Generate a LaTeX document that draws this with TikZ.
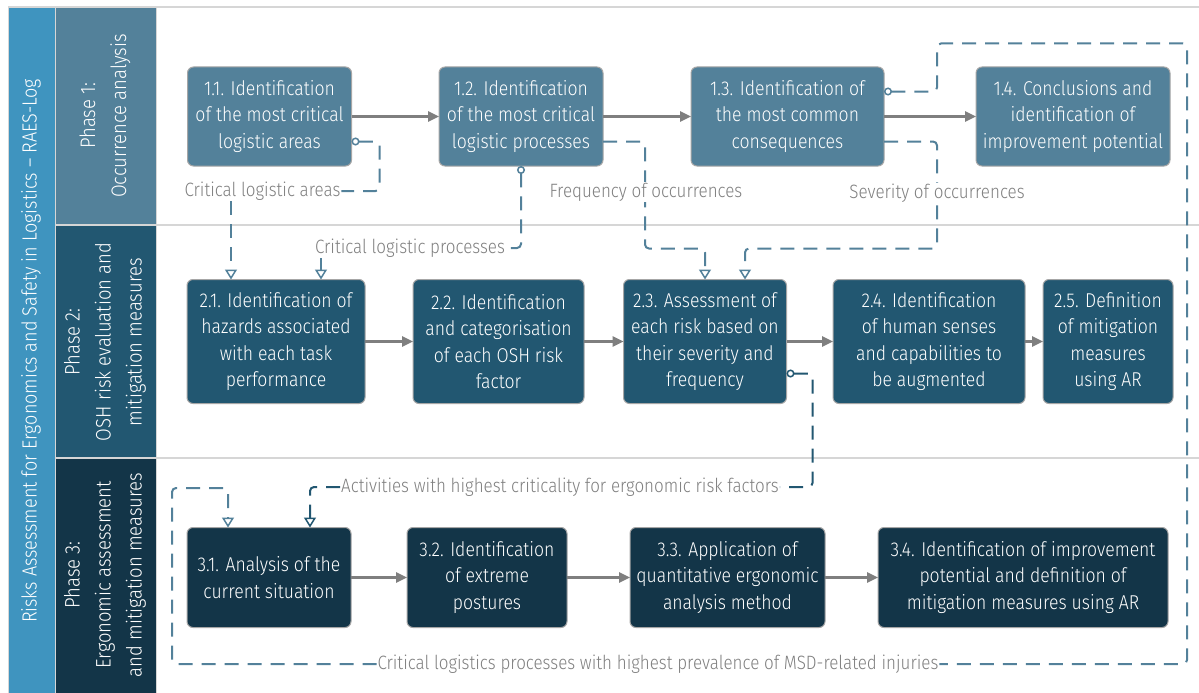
\documentclass[tikz,border=0pt]{standalone}
\usepackage{fontspec}
\setmainfont{Fira Sans Light}[FakeStretch=0.88]
\usetikzlibrary{arrows.meta}

\definecolor{barblue}{HTML}{3F94BF}
\definecolor{phaseA}{HTML}{53819A}
\definecolor{phaseB}{HTML}{225771}
\definecolor{phaseC}{HTML}{133548}
\definecolor{gridgray}{HTML}{D6D6D6}
\definecolor{flowgray}{HTML}{7F7F7F}
\definecolor{labelgray}{HTML}{7F7F7F}

\tikzset{
  boxbase/.style={rounded corners=6pt, draw=gray!70, line width=1pt,
    text=white, align=center, inner sep=0pt, outer sep=0pt,
    font=\fontsize{20}{26.5}\selectfont},
  stageA/.style={boxbase, fill=phaseA},
  stageB/.style={boxbase, fill=phaseB},
  stageC/.style={boxbase, fill=phaseC},
  flow/.style={draw=flowgray, line width=2.5pt,
    -{Triangle[length=11pt,width=10pt]}},
  dlink/.style={line width=2pt, dash pattern=on 14pt off 9pt, rounded corners=4pt},
  dlinkA/.style={dlink, draw=phaseA},
  dlinkB/.style={dlink, draw=phaseB},
  startdot/.style={{Circle[open,length=8pt,width=8pt,fill=white,line width=1.5pt]}-},
  opentip/.style={-{Triangle[open,length=10pt,width=12pt,fill=white,line width=1.5pt]}},
  flowlabel/.style={text=labelgray, fill=white, inner sep=1pt, outer sep=0pt,
    font=\fontsize{19.3}{24}\selectfont},
  phasetext/.style={text=white, rotate=90, align=center,
    font=\fontsize{21}{31}\selectfont}
}

\begin{document}
\begin{tikzpicture}[x=1pt,y=-1pt]
\useasboundingbox (0,0) rectangle (1199,693);
\fill[white] (0,0) rectangle (1199,693);

% side bands
\fill[barblue] (8,7) rectangle (55,693);
\fill[phaseA] (55,7) rectangle (156,225);
\fill[phaseB] (55,225) rectangle (156,458);
\fill[phaseC] (55,458) rectangle (156,693);
\draw[gridgray, line width=1.5pt] (8,7) -- (1199,7);
\draw[gridgray, line width=1.5pt] (55,225) -- (1199,225);
\draw[gridgray, line width=1.5pt] (55,458) -- (1199,458);
\draw[gridgray, line width=1pt] (8,7) -- (8,693);
\draw[gridgray, line width=1pt] (55,7) -- (55,693);
\draw[gridgray, line width=1pt] (156,7) -- (156,693);

\node[phasetext, font=\fontsize{20.5}{26}\selectfont] (title) at (31,351)
  {Risks Assessment for Ergonomics and Safety in Logistics -- RAES-Log};
\node[phasetext] (ph1) at (105,116) {Phase 1:\\Occurrence analysis};
\node[phasetext] (ph2) at (105,342) {Phase 2:\\OSH risk evaluation and\\mitigation measures};
\node[phasetext] (ph3) at (105,575) {Phase 3:\\Ergonomic assessment\\and mitigation measures};

% phase 1
\node[stageA, minimum width=164pt, minimum height=99pt] (n11) at (269.5,116.5)
  {1.1. Identification\\of the most critical\\logistic areas};
\node[stageA, minimum width=164pt, minimum height=99pt] (n12) at (521,116.5)
  {1.2. Identification\\of the most critical\\logistic processes};
\node[stageA, minimum width=193pt, minimum height=99pt] (n13) at (787.5,116.5)
  {1.3. Identification of\\the most common\\consequences};
\node[stageA, minimum width=194pt, minimum height=99pt] (n14) at (1073,116.5)
  {1.4. Conclusions and\\identification of\\improvement potential};

% phase 2
\node[stageB, minimum width=178pt, minimum height=124pt] (n21) at (276,341.5)
  {2.1. Identification of\\hazards associated\\with each task\\performance};
\node[stageB, minimum width=171pt, minimum height=124pt] (n22) at (498.5,341.5)
  {2.2. Identification\\and categorisation\\of each OSH risk\\factor};
\node[stageB, minimum width=163pt, minimum height=124pt] (n23) at (705,341.5)
  {2.3. Assessment of\\each risk based on\\their severity and\\frequency};
\node[stageB, minimum width=192pt, minimum height=124pt] (n24) at (929,341.5)
  {2.4. Identification\\of human senses\\and capabilities to\\be augmented};
\node[stageB, minimum width=130pt, minimum height=124pt] (n25) at (1108,341.5)
  {2.5. Definition\\of mitigation\\measures\\using AR};

% phase 3
\node[stageC, minimum width=164pt, minimum height=100pt] (n31) at (269,577.5)
  {3.1. Analysis of the\\current situation};
\node[stageC, minimum width=160pt, minimum height=100pt] (n32) at (487,577.5)
  {3.2. Identification\\of extreme\\postures};
\node[stageC, minimum width=195pt, minimum height=100pt] (n33) at (727.5,577.5)
  {3.3. Application of\\quantitative ergonomic\\analysis method};
\node[stageC, minimum width=290pt, minimum height=100pt] (n34) at (1023,577.5)
  {3.4. Identification of improvement\\potential and definition of\\mitigation measures using AR};

% sequence arrows
\draw[flow] (n11.east) -- (n12.west);
\draw[flow] (n12.east) -- (n13.west);
\draw[flow] (n13.east) -- (n14.west);
\draw[flow] (n21.east) -- (n22.west);
\draw[flow] (n22.east) -- (n23.west);
\draw[flow] (n23.east) -- (n24.west);
\draw[flow] (n24.east) -- (n25.west);
\draw[flow] (n31.east) -- (n32.west);
\draw[flow] (n32.east) -- (n33.west);
\draw[flow] (n33.east) -- (n34.west);

% information flow labels
\node[flowlabel] (lab1) at (262.5,191) {Critical logistic areas};
\node[flowlabel] (lab2) at (410,248) {Critical logistic processes};
\node[flowlabel] (lab5) at (560,487) {Activities with highest criticality for ergonomic risk factors};
\node[flowlabel] (lab6) at (658,664) {Critical logistics processes with highest prevalence of MSD-related injuries};

% dashed information flows
\draw[dlinkA, startdot] ([yshift=-25pt]n11.east) -- ++(28,0) |- (lab1.east);
\draw[dlinkA, opentip] ([xshift=-45pt]n21.north |- lab1.south) -- ([xshift=-45pt]n21.north);
\draw[dlinkA, startdot] (n12.south) |- (lab2.east);
\draw[dlinkA, opentip] ([xshift=45pt]n21.north |- lab2.south) -- ([xshift=45pt]n21.north);
\draw[dlinkA, startdot, opentip] ([yshift=-25pt]n12.east) -- ++(42,0) -- ++(0,107) -| (n23.north);
\draw[dlinkA, startdot, opentip] ([yshift=-25pt]n13.east) -- ++(53,0) -- ++(0,107) -| ([xshift=40pt]n23.north);
\draw[dlinkA, startdot] ([yshift=25pt]n13.east) -- ++(53,0) -- ++(0,-48) -- ++(250,0) |- (lab6.east);
\draw[dlinkA, opentip] (lab6.west) -- (172,664) -- (172,488) -| ([xshift=-41pt]n31.north);
\draw[dlinkB, startdot] ([yshift=-32pt]n23.east) -- ++(26,0) |- (lab5.east);
\draw[dlinkB, opentip] (lab5.west) -| ([xshift=41pt]n31.north);

% labels sitting on a dashed line
\node[flowlabel] (lab3) at (646,192) {Frequency of occurrences};
\node[flowlabel] (lab4) at (937,193) {Severity of occurrences};
\end{tikzpicture}
\end{document}
